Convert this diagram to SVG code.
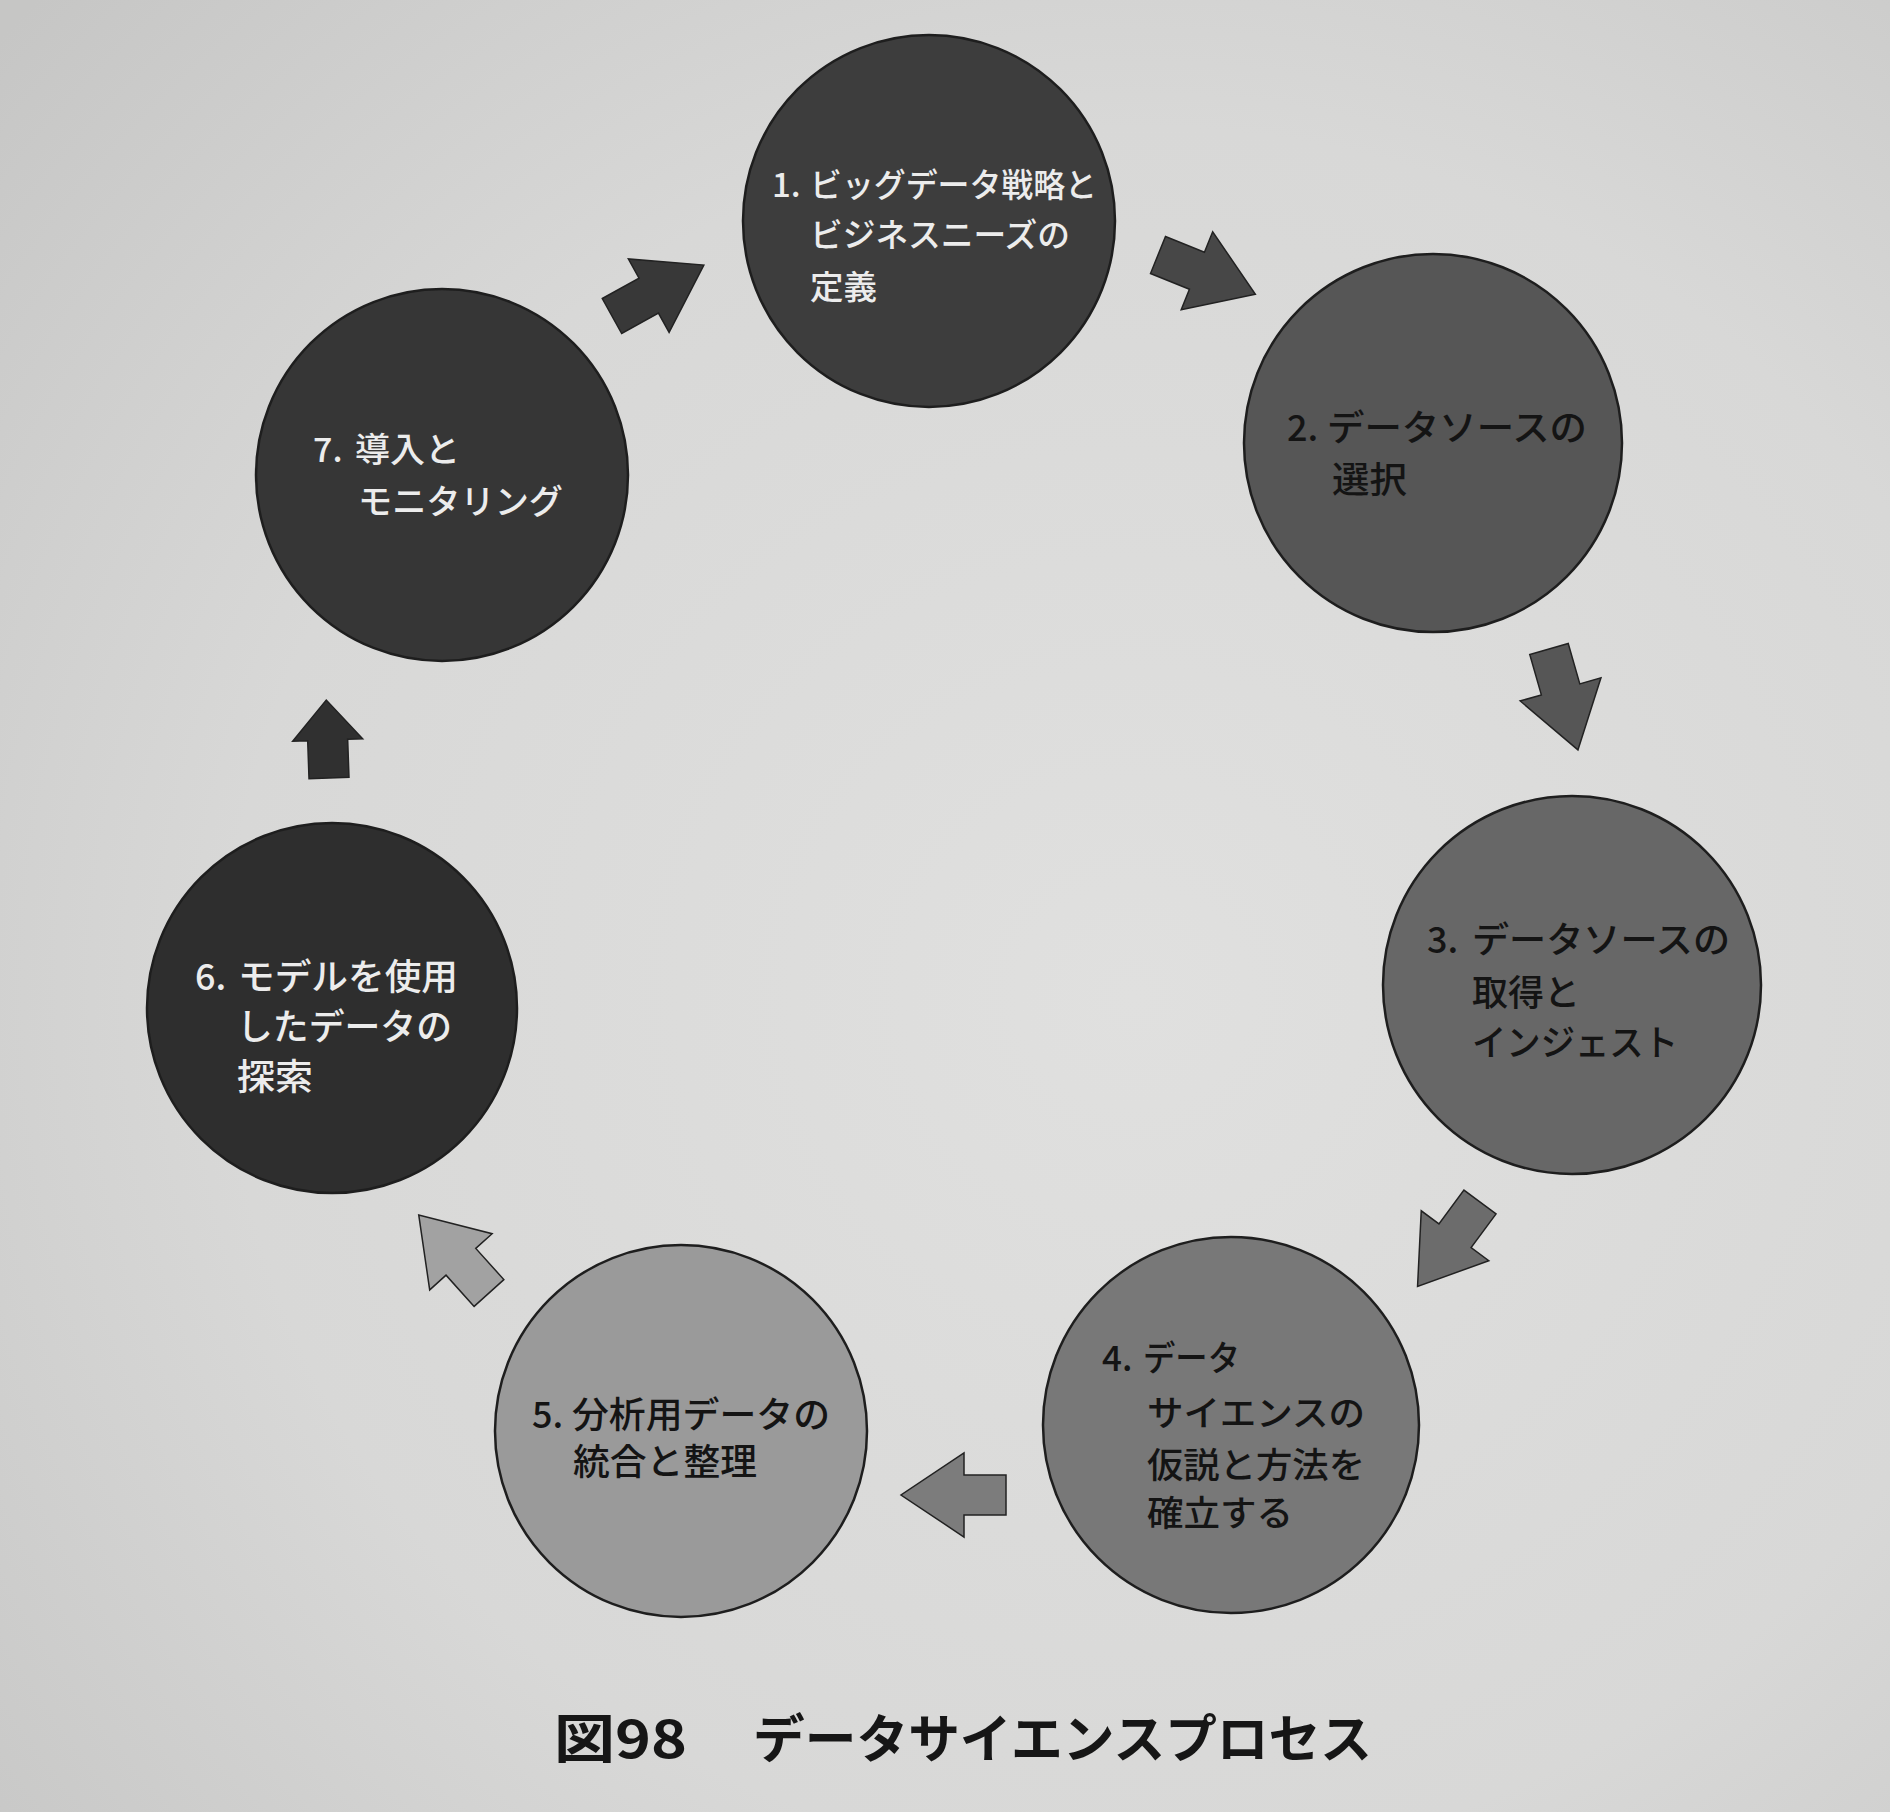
<svg xmlns="http://www.w3.org/2000/svg" xmlns:xlink="http://www.w3.org/1999/xlink" width="1890" height="1812" viewBox="0 0 1890 1812">
<style>
.node{stroke:#1e1e1e;stroke-width:2.5}
.lt{font-family:"Noto Sans CJK JP","Noto Sans",sans-serif;font-weight:500;fill:#ececec}
.dk{font-family:"Noto Sans CJK JP","Noto Sans",sans-serif;font-weight:500;fill:#141414}
.arrow{stroke:#222;stroke-width:1.5;stroke-linejoin:miter}
.cap{font-family:"Noto Sans CJK JP","Noto Sans",sans-serif;font-weight:bold;font-size:52px;fill:#161616}
</style>
<defs>
<radialGradient id="paper" cx="0.6" cy="0.55" r="0.8">
<stop offset="0" stop-color="#e0e0df"/>
<stop offset="0.6" stop-color="#d8d8d7"/>
<stop offset="1" stop-color="#c6c6c5"/>
</radialGradient>
<polygon id="arr" points="0,-20 42,-20 42,-42 105,0 42,42 42,20 0,20"/>
<polygon id="arrS" points="0,-20 38,-20 38,-35 78,0 38,35 38,20 0,20"/>
</defs>
<rect x="0" y="0" width="1890" height="1812" fill="url(#paper)"/>

<g id="connectors">
<use xlink:href="#arr" class="arrow" fill="#474747" transform="translate(1158,255) rotate(22)"/>
<use xlink:href="#arr" class="arrow" fill="#565656" transform="translate(1549,649) rotate(74)"/>
<use xlink:href="#arr" class="arrow" fill="#6c6c6c" transform="translate(1480,1202) rotate(126.5)"/>
<use xlink:href="#arr" class="arrow" fill="#7c7c7c" transform="translate(1006,1495) rotate(180)"/>
<use xlink:href="#arr" class="arrow" fill="#a2a2a2" transform="translate(489,1293) rotate(228)"/>
<use xlink:href="#arrS" class="arrow" fill="#303030" transform="translate(329,778) rotate(-92)"/>
<use xlink:href="#arr" class="arrow" fill="#383838" transform="translate(612,316) rotate(-29)"/>
</g>

<g id="node1">
<circle class="node" cx="929" cy="221" r="186" fill="#3d3d3d"/>
<text class="lt" font-size="33" x="772" y="197">1.</text>
<text class="lt" font-size="33" x="810" y="197" textLength="287" lengthAdjust="spacingAndGlyphs">ビッグデータ戦略と</text>
<text class="lt" font-size="33" x="810" y="247" textLength="260" lengthAdjust="spacingAndGlyphs">ビジネスニーズの</text>
<text class="lt" font-size="33" x="810" y="299" textLength="67" lengthAdjust="spacingAndGlyphs">定義</text>
</g>

<g id="node2">
<circle class="node" cx="1433" cy="443" r="189" fill="#565656"/>
<text class="dk" font-size="36" x="1287" y="441">2.</text>
<text class="dk" font-size="36" x="1327" y="441" textLength="260" lengthAdjust="spacingAndGlyphs">データソースの</text>
<text class="dk" font-size="36" x="1332" y="493" textLength="75" lengthAdjust="spacingAndGlyphs">選択</text>
</g>

<g id="node3">
<circle class="node" cx="1572" cy="985" r="189" fill="#676767"/>
<text class="dk" font-size="36" x="1427" y="953">3.</text>
<text class="dk" font-size="36" x="1472" y="953" textLength="258" lengthAdjust="spacingAndGlyphs">データソースの</text>
<text class="dk" font-size="36" x="1472" y="1006" textLength="108" lengthAdjust="spacingAndGlyphs">取得と</text>
<text class="dk" font-size="36" x="1472" y="1056" textLength="206" lengthAdjust="spacingAndGlyphs">インジェスト</text>
</g>

<g id="node4">
<circle class="node" cx="1231" cy="1425" r="188" fill="#787878"/>
<text class="dk" font-size="35" x="1102" y="1371">4.</text>
<text class="dk" font-size="35" x="1143" y="1371" textLength="97" lengthAdjust="spacingAndGlyphs">データ</text>
<text class="dk" font-size="35" x="1147" y="1426" textLength="218" lengthAdjust="spacingAndGlyphs">サイエンスの</text>
<text class="dk" font-size="35" x="1147" y="1478" textLength="218" lengthAdjust="spacingAndGlyphs">仮説と方法を</text>
<text class="dk" font-size="35" x="1147" y="1526" textLength="146" lengthAdjust="spacingAndGlyphs">確立する</text>
</g>

<g id="node5">
<circle class="node" cx="681" cy="1431" r="186" fill="#9a9a9a"/>
<text class="dk" font-size="36" x="532" y="1428">5.</text>
<text class="dk" font-size="36" x="572" y="1428" textLength="258" lengthAdjust="spacingAndGlyphs">分析用データの</text>
<text class="dk" font-size="36" x="573" y="1475" textLength="184" lengthAdjust="spacingAndGlyphs">統合と整理</text>
</g>

<g id="node6">
<circle class="node" cx="332" cy="1008" r="185" fill="#2e2e2e"/>
<text class="lt" font-size="36" x="195" y="990">6.</text>
<text class="lt" font-size="36" x="238" y="990" textLength="220" lengthAdjust="spacingAndGlyphs">モデルを使用</text>
<text class="lt" font-size="36" x="237" y="1040" textLength="215" lengthAdjust="spacingAndGlyphs">したデータの</text>
<text class="lt" font-size="36" x="237" y="1090" textLength="76" lengthAdjust="spacingAndGlyphs">探索</text>
</g>

<g id="node7">
<circle class="node" cx="442" cy="475" r="186" fill="#363636"/>
<text class="lt" font-size="34" x="313" y="462">7.</text>
<text class="lt" font-size="34" x="355" y="462" textLength="105" lengthAdjust="spacingAndGlyphs">導入と</text>
<text class="lt" font-size="34" x="358" y="514" textLength="205" lengthAdjust="spacingAndGlyphs">モニタリング</text>
</g>

<g id="caption">
<text class="cap" x="554" y="1758" textLength="133" lengthAdjust="spacingAndGlyphs">図98</text>
<text class="cap" x="753" y="1758" textLength="619" lengthAdjust="spacingAndGlyphs">データサイエンスプロセス</text>
</g>
</svg>
